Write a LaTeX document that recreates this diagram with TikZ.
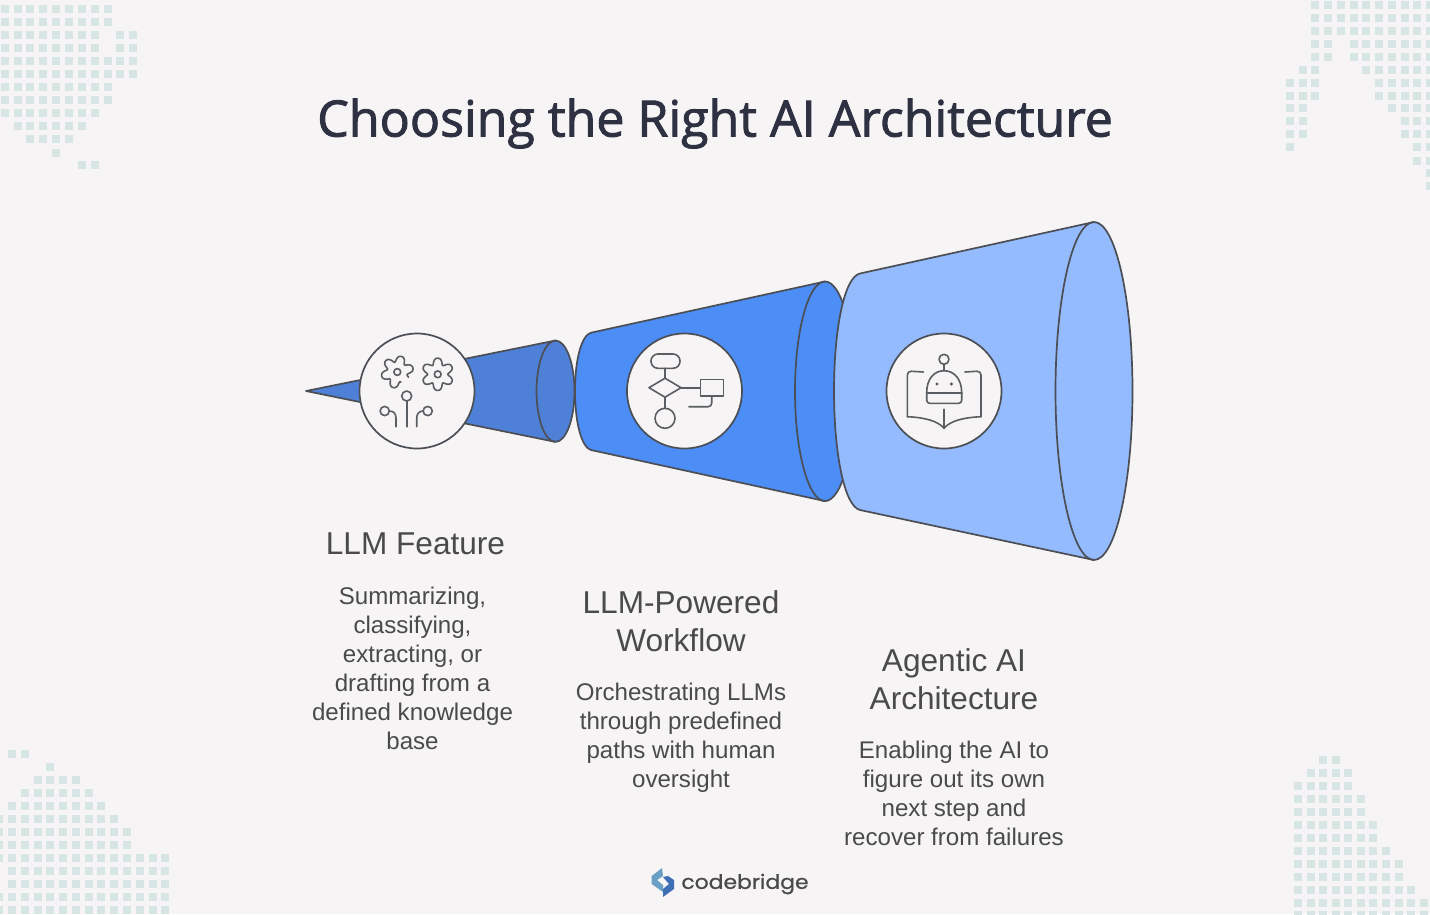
\documentclass[tikz,border=0pt]{standalone}
\usepackage{fontspec}
\setmainfont{Liberation Sans}
\newfontfamily\titlefont[FakeBold=1.8]{Open Sans}
\newfontfamily\logofont[FakeStretch=1.1,FakeBold=0.8]{Poppins}
\usetikzlibrary{positioning}
\definecolor{paper}{HTML}{F6F4F5}
\definecolor{pixel}{HTML}{D7E6E5}
\definecolor{coneS}{HTML}{4F80D8}
\definecolor{coneM}{HTML}{4C8DF6}
\definecolor{coneL}{HTML}{94BBFE}
\definecolor{outline}{HTML}{4B4F55}
\definecolor{iconink}{HTML}{5A5D62}
\definecolor{titleink}{HTML}{2E3142}
\definecolor{bodyink}{HTML}{4A4A4C}
\definecolor{logoLight}{HTML}{6A9FC5}
\definecolor{logoDark}{HTML}{3F6FB5}
\tikzset{
  cone/.style={draw=outline,line width=1.7pt,line join=round},
  badge/.style={circle,draw=outline,line width=1.7pt,fill=paper,minimum size=115pt,inner sep=0pt},
  icon/.style={draw=iconink,line width=1.6pt,line cap=round,line join=round},
  head/.style={font=\fontsize{31.6}{38.5}\selectfont,text=bodyink,align=center,inner sep=0pt},
  body/.style={font=\fontsize{24.1}{29}\selectfont,text=bodyink,align=center,inner sep=0pt}
}
% x0, step, then rows as y/{columns}
\newcommand{\pixelrows}[3]{%
  \foreach \yy/\cols in {#3}
    \foreach \cc in \cols
      \fill[pixel] ({#1+#2*\cc-4},\yy-4) rectangle ++(8,8);
}
\newcommand{\gearicon}[5]{%
  \draw[icon] plot[smooth,samples=145,domain=#3:#4,variable=\t]
    ({#1+(13.6+3*cos(6*(\t-#5))-0.5*cos(12*(\t-#5)))*cos(\t)},{#2+(13.6+3*cos(6*(\t-#5))-0.5*cos(12*(\t-#5)))*sin(\t)});
}
\begin{document}
\begin{tikzpicture}[x=1pt,y=-1pt,node distance=14pt]
  \fill[paper] (0,0) rectangle (1430,914);
  \useasboundingbox (0,0) rectangle (1430,914);
  % corner pixels
  \pixelrows{4.7}{12.85}{-3.6/{2,6,7,8},9.3/{0,...,8},22.3/{0,...,8},35.3/{0,...,7,9,10},
    48.3/{0,...,7,9,10},61/{0,...,10},74/{0,...,10},87/{0,...,8},100/{0,...,8},113/{0,...,7},
    126/{1,...,6},139/{2,...,5},152.7/{4},165.3/{6,7}}
  \pixelrows{1290}{12.73}{4.7/{2,...,11},17.7/{2,...,11},30.7/{2,...,11},43.7/{2,3,5,6,7,8,9,10,11},
    56.7/{2,3,5,6,7,8,9,10,11},69.7/{1,2,6,7,8,9,10,11},82.7/{0,1,2,7,8,9,10,11},95.7/{0,1,2,7,8,9,10,11},
    108.3/{0,1,8,9,10,11},121.3/{0,1,9,10,11},134.3/{0,1,9,10,11},147.3/{0,10,11},160.7/{10,11},
    173.3/{11},186.3/{11}}
  \pixelrows{-0.7}{12.77}{753.7/{1,2},766.7/{4},780.3/{3,...,6},793.3/{2,...,7},806/{1,...,8},
    819/{0,...,9},832/{0,...,10},845/{0,...,10},858/{0,...,13},871/{1,...,13},884/{1,...,13},
    897/{0,...,13},910/{0,...,13}}
  \pixelrows{1298}{12.57}{760/{2,3},773/{1,...,4},786/{0,...,4},799/{0,...,5},811.7/{0,...,5},
    824.7/{0,...,6},837.7/{0,...,6},850.7/{0,...,7},863.7/{0,...,8},876.7/{0,...,8},889.7/{0,...,9},
    902.7/{0,...,10},915/{0,...,10}}

  \node[font=\titlefont\fontsize{50.1}{54}\selectfont,text=titleink,inner sep=0pt] (title) at (715,123.5) {Choosing the Right AI Architecture};

  % cones, small to large
  \draw[cone,fill=coneS] (306,391) -- (555.5,340.5) arc[start angle=90,end angle=-90,x radius=19pt,y radius=50.7pt] -- cycle;
  \draw[cone] (555.5,340.5) arc[start angle=90,end angle=270,x radius=19pt,y radius=50.7pt];
  \draw[cone,fill=coneM] (575,391) .. controls (575,358) and (582,335) .. (591,332.7) -- (825,281.5)
    arc[start angle=90,end angle=-90,x radius=30pt,y radius=109.8pt] -- (591,450) .. controls (582,447.5) and (575,424) .. (575,391) -- cycle;
  \draw[cone] (825,281.5) arc[start angle=90,end angle=270,x radius=30pt,y radius=109.8pt];
  \draw[cone,fill=coneL] (834,391) .. controls (834,330) and (844,277) .. (860,273.5) -- (1094,222)
    arc[start angle=90,end angle=-90,x radius=38.5pt,y radius=169pt] -- (860,510) .. controls (844,506) and (834,452) .. (834,391) -- cycle;
  \draw[cone] (1094,222) arc[start angle=90,end angle=270,x radius=38.5pt,y radius=169pt];

  \node[badge] (featBadge) at (417,391) {};
  \node[badge] (flowBadge) at (684.5,391) {};
  \node[badge] (agentBadge) at (944,391) {};

  % feature icon
  \gearicon{397.3}{372}{70}{385}{-75}
  \draw[icon] (397.3,372) circle[radius=3.4pt];
  \gearicon{437.7}{374.3}{30}{390}{-90}
  \draw[icon] (437.7,374.3) circle[radius=3.4pt];
  \draw[icon] (406.7,396) circle[radius=5pt];
  \draw[icon] (406.7,401) -- (406.7,426.7);
  \draw[icon] (384.7,411) circle[radius=4.6pt];
  \draw[icon] (389.3,411) .. controls (394,411) and (396,414) .. (396,418) -- (396,426.7);
  \draw[icon] (427.7,411) circle[radius=4.6pt];
  \draw[icon] (423.1,411) .. controls (419,411) and (416.7,414) .. (416.7,418) -- (416.7,426.7);

  % workflow icon
  \draw[icon,rounded corners=7pt] (651,354) rectangle (680,368.3);
  \draw[icon] (665,368.3) -- (665,378.2);
  \draw[icon] (665,378.2) -- (681,387.7) -- (665,397.2) -- (649,387.7) -- cycle;
  \draw[icon] (681,387.7) -- (700.3,387.7);
  \draw[icon] (700.3,379.3) rectangle (723.3,396);
  \draw[icon,rounded corners=3.5pt] (711.7,396) -- (711.7,406.7) -- (689,406.7);
  \draw[icon] (665,397.2) -- (665,408.3);
  \draw[icon] (665,418.3) circle[radius=10pt];

  % agent icon
  \draw[icon] (944,359.3) circle[radius=5pt];
  \draw[icon] (944,364.3) -- (944,370.7);
  \draw[icon] (926.7,392.7) .. controls (926.7,379) and (934,370.7) .. (944,370.7)
    .. controls (954,370.7) and (961.7,379) .. (961.7,392.7);
  \draw[icon,rounded corners=3pt] (926.7,392.7) -- (926.7,403.3) -- (961.7,403.3) -- (961.7,392.7);
  \draw[icon] (926.7,392.7) -- (961.7,392.7);
  \fill[iconink] (937,384) circle[radius=1.7pt] (951.3,384) circle[radius=1.7pt];
  \draw[icon,rounded corners=4pt] (923.3,372) -- (907.3,371) -- (907.3,416.7);
  \draw[icon] (907.3,416.7) .. controls (925,417.5) and (938,421) .. (944,428.3);
  \draw[icon,rounded corners=4pt] (965,372) -- (981,371) -- (981,416.7);
  \draw[icon] (981,416.7) .. controls (963,417.5) and (950,421) .. (944,428.3);
  \draw[icon] (944,409.3) -- (944,428.3);

  % captions
  \node[head] (featHead) at (415.5,544) {LLM Feature};
  \node[body,below=32pt of featHead,xshift=-3pt] (featBody) {Summarizing,\\classifying,\\extracting, or\\drafting from a\\defined knowledge\\base};
  \node[head] (flowHead) at (681,621) {LLM-Powered\\Workflow};
  \node[body,below=31pt of flowHead] (flowBody) {Orchestrating LLMs\\through predefined\\paths with human\\oversight};
  \node[head] (agentHead) at (954,679) {Agentic AI\\Architecture};
  \node[body,below=30.5pt of agentHead] (agentBody) {Enabling the AI to\\figure out its own\\next step and\\recover from failures};

  % logo
  \fill[logoLight] (662,868) -- (651.7,876) -- (651.7,884) -- (663,892) -- (663,885) -- (657,880) -- (663,876) -- cycle;
  \fill[logoDark] (663,877) -- (668,876) -- (674,880) -- (674,889) -- (663,897) -- (663,889) -- (669,884) -- cycle;
  \node[font=\logofont\fontsize{19.9}{22}\selectfont,text=bodyink,inner sep=0pt] (logoText) at (745,884) {codebridge};
\end{tikzpicture}
\end{document}
